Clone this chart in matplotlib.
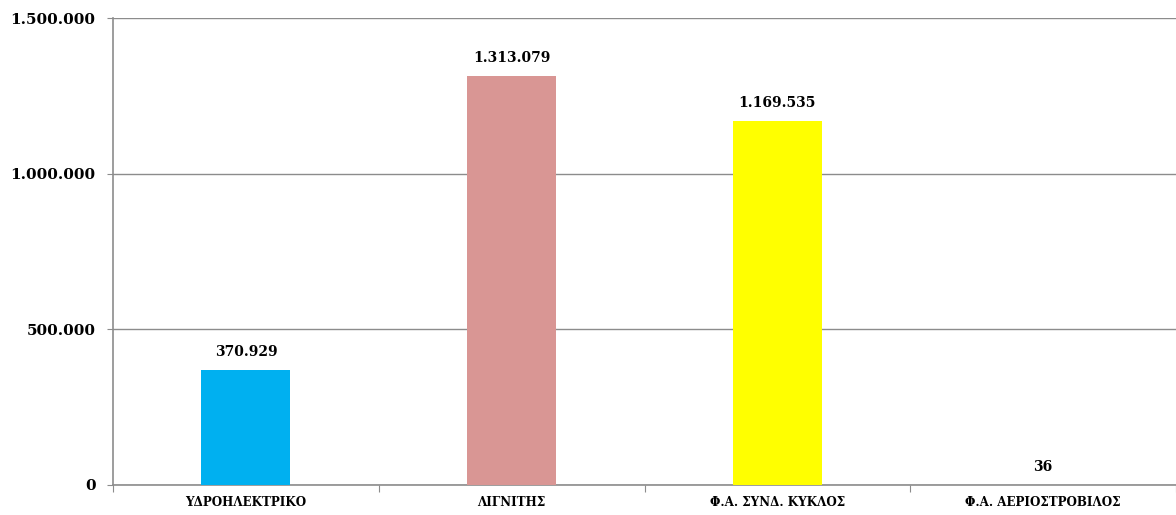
import matplotlib.pyplot as plt
from matplotlib.ticker import FuncFormatter

categories = ['ΥΔΡΟΗΛΕΚΤΡΙΚΟ', 'ΛΙΓΝΙΤΗΣ', 'Φ.Α. ΣΥΝΔ. ΚΥΚΛΟΣ', 'Φ.Α. ΑΕΡΙΟΣΤΡΟΒΙΛΟΣ']
values = [370929, 1313079, 1169535, 36]
colors = ['#00B0F0', '#D99694', '#FFFF00', '#8064A2']

plt.rcParams['font.family'] = ['DejaVu Serif']
plt.rcParams['font.weight'] = 'bold'


def dots(v, pos=None):
    return f'{int(round(v)):,}'.replace(',', '.')


fig = plt.figure(figsize=(11.76, 5.15), dpi=100)
ax = fig.add_axes([0.0961, 0.0583, 0.9039, 0.9067])

x = range(len(categories))
ax.bar(x, values, width=0.335, color=colors, zorder=3)
for xi, v in zip(x, values):
    ax.text(xi, v + 35000, dots(v), ha='center', va='bottom', fontsize=10, fontweight='bold')

ax.set_xlim(-0.5, len(categories) - 0.5)
ax.set_ylim(0, 1500000)
ax.set_yticks([0, 500000, 1000000, 1500000])
ax.yaxis.set_major_formatter(FuncFormatter(dots))
ax.grid(axis='y', color='#8c8c8c', linewidth=1, zorder=0)

ax.set_xticks([i - 0.5 for i in range(len(categories) + 1)])
ax.set_xticklabels([])
ax.set_xticks(list(x), minor=True)
ax.set_xticklabels(categories, minor=True, fontsize=8.6, fontweight='bold')
ax.tick_params(axis='x', which='minor', length=0, pad=8)
ax.tick_params(axis='x', which='major', length=5, color='#8c8c8c')
ax.tick_params(axis='y', length=4.5, color='#8c8c8c', labelsize=11, pad=8)

for s in ['top', 'right']:
    ax.spines[s].set_visible(False)
for s in ['left', 'bottom']:
    ax.spines[s].set_color('#8c8c8c')
    ax.spines[s].set_linewidth(1.2)

fig.savefig('out.png', dpi=100)
